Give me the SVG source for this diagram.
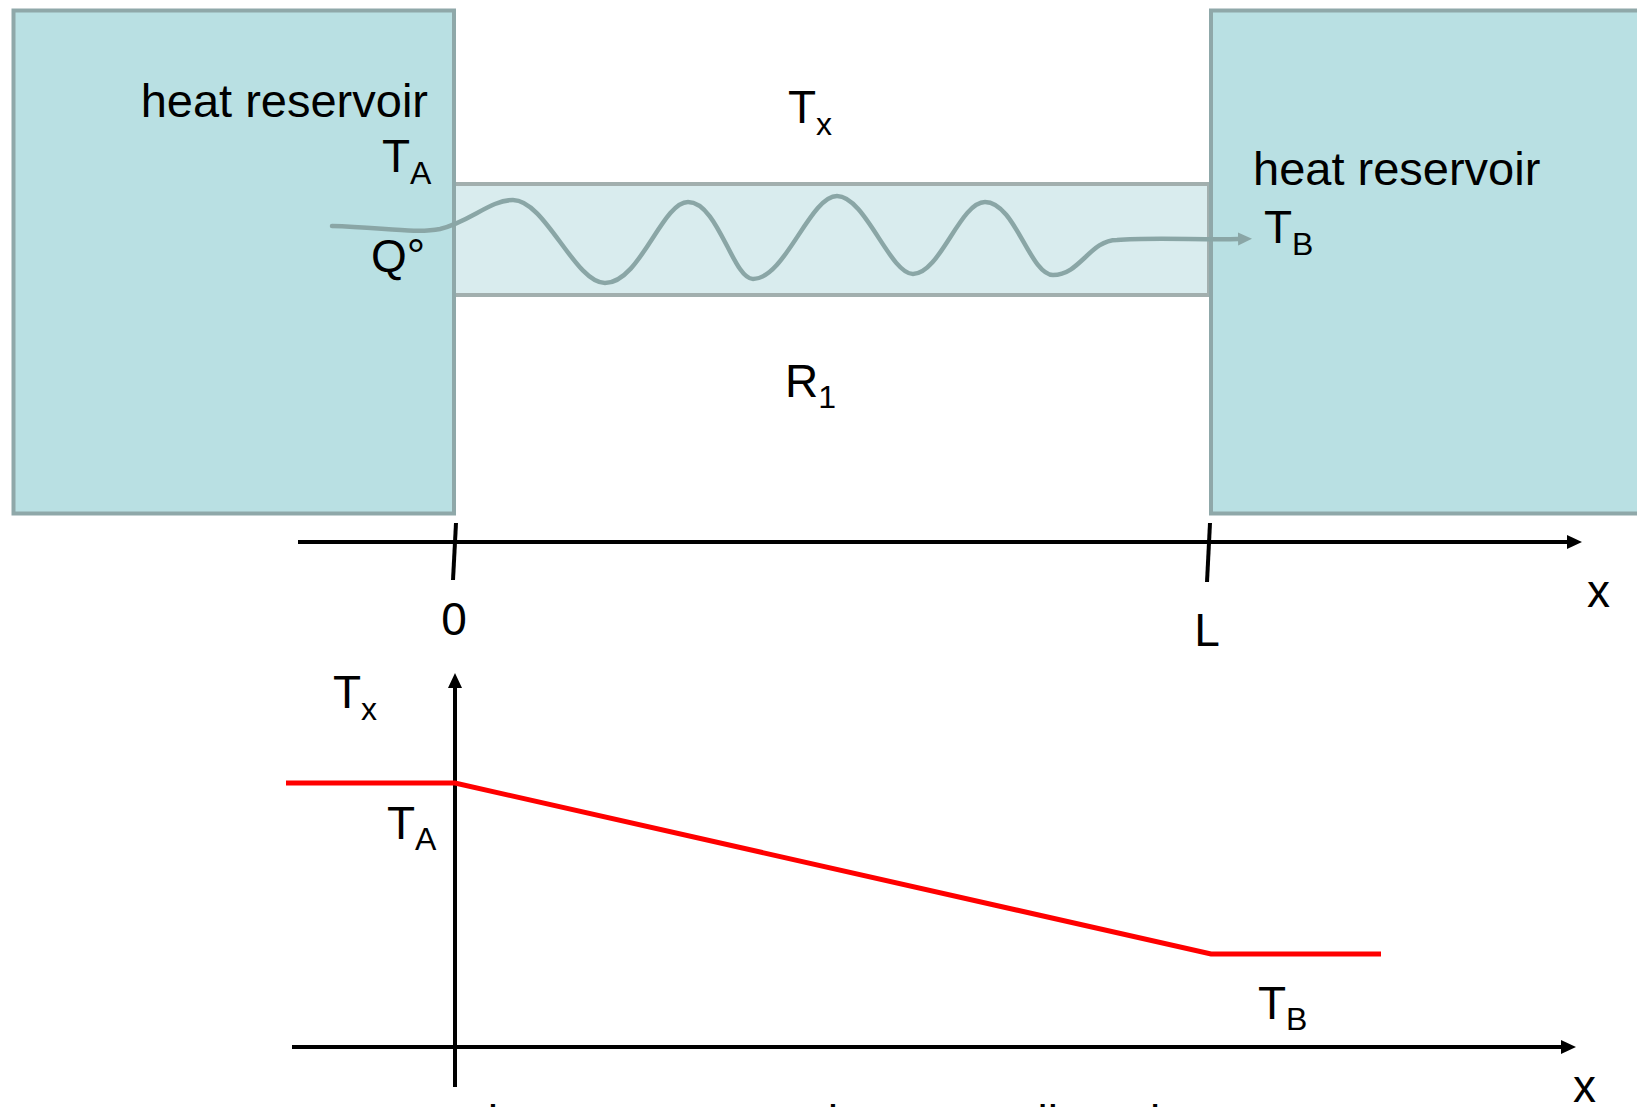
<svg xmlns="http://www.w3.org/2000/svg" width="1637" height="1107" viewBox="0 0 1637 1107">
<style>
text{font-family:"Liberation Sans",Arial,sans-serif;fill:#000;}
.lbl{font-size:46px;}
.big{font-size:47px;}
.sub{font-size:32px;}
.res{fill:#b9e0e3;stroke:#8fa8a9;stroke-width:4;}
.rod{fill:#d9ecee;stroke:#a2afae;stroke-width:4;}
.axis{stroke:#000;stroke-width:4;fill:none;}
.wave{stroke:#8aa6a6;stroke-width:4.5;fill:none;stroke-linecap:round;}
.prof{stroke:#ff0000;stroke-width:5;fill:none;}
</style>
<defs>
<marker id="ah" markerUnits="userSpaceOnUse" markerWidth="16" markerHeight="16" viewBox="0 -8 16 16" refX="0" refY="0" orient="auto">
<path d="M0,-7 L15,0 L0,7 z" fill="#000"/>
</marker>
<marker id="ahg" markerUnits="userSpaceOnUse" markerWidth="16" markerHeight="16" viewBox="0 -8 16 16" refX="0" refY="0" orient="auto">
<path d="M0,-6.5 L14,0 L0,6.5 z" fill="#8aa6a6"/>
</marker>
</defs>
<rect width="1637" height="1107" fill="#fff"/>

<g id="rod">
<rect class="rod" x="454" y="184" width="755" height="111"/>
</g>
<g id="reservoir-A">
<rect class="res" x="13.5" y="10.5" width="440.5" height="503"/>
<text class="big" x="428" y="117" text-anchor="end">heat reservoir</text>
<text class="lbl" x="382" y="172">T<tspan class="sub" dy="12">A</tspan></text>
<text class="lbl" x="371" y="272">Q°</text>
</g>
<g id="reservoir-B">
<rect class="res" x="1211" y="10.5" width="450" height="503"/>
<text class="big" x="1253" y="185">heat reservoir</text>
<text class="lbl" x="1264" y="243">T<tspan class="sub" dy="12">B</tspan></text>
</g>
<g id="rod-labels">
<text class="lbl" x="788" y="123">T<tspan class="sub" dy="12">x</tspan></text>
<text class="lbl" x="785" y="397">R<tspan class="sub" dy="11">1</tspan></text>
</g>

<g id="connectors">
<path class="wave" marker-end="url(#ahg)" d="M332,226 C380,227 415,234 440,229 C470,222 490,200 513,200 C545,200 575,283 605,283 C640,283 662,202 688,202 C718,202 733,279 753,279 C785,279 810,196 837,196 C865,196 890,274 913,274 C940,274 960,202 985,202 C1015,202 1030,275 1053,275 C1080,275 1090,240 1117,240 C1150,237 1200,240 1238,239"/>
<line class="axis" x1="298" y1="542" x2="1567" y2="542" marker-end="url(#ah)"/>
<line class="axis" x1="456" y1="523" x2="453" y2="580"/>
<line class="axis" x1="1210" y1="523" x2="1207" y2="582"/>
<line class="axis" x1="455" y1="1087" x2="455" y2="688" marker-end="url(#ah)"/>
<line class="axis" x1="292" y1="1047" x2="1561" y2="1047" marker-end="url(#ah)"/>
<polyline class="prof" points="286,783 455,783 1211,954 1381,954"/>
</g>

<g id="axis-labels">
<text class="lbl" x="454" y="635" text-anchor="middle">0</text>
<text class="lbl" x="1207" y="646" text-anchor="middle">L</text>
<text class="lbl" x="1587" y="607">x</text>
<text class="lbl" x="333" y="708">T<tspan class="sub" dy="12">x</tspan></text>
<text class="lbl" x="387" y="839">T<tspan class="sub" dy="11">A</tspan></text>
<text class="lbl" x="1258" y="1019">T<tspan class="sub" dy="11">B</tspan></text>
<text class="lbl" x="1573" y="1102">x</text>
<text class="lbl" x="475" y="1138">the temperature decreases linearly</text>
</g>
</svg>
